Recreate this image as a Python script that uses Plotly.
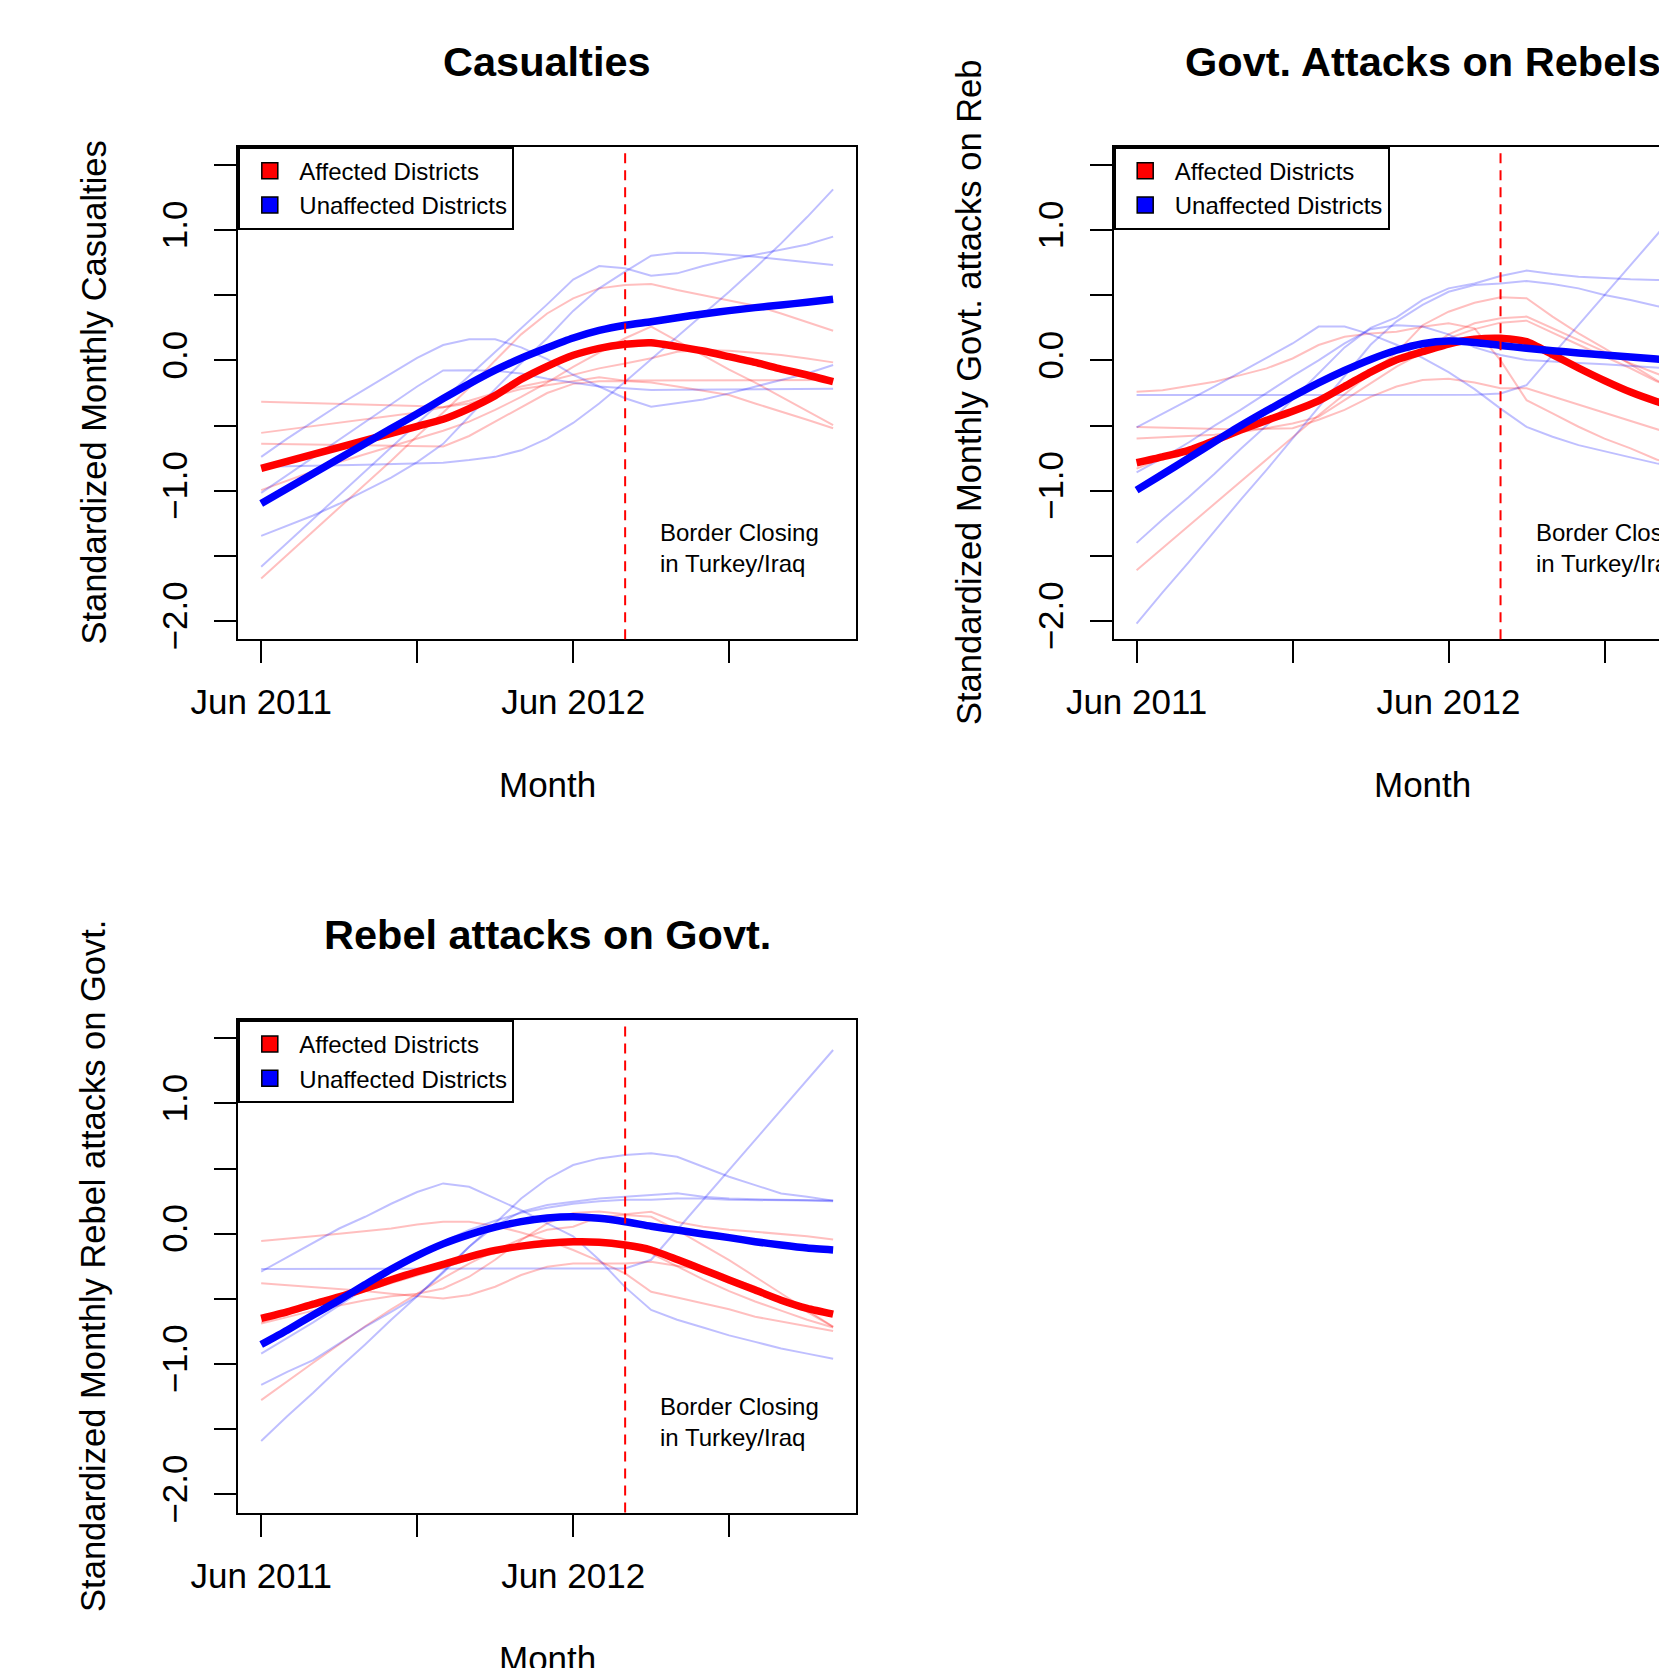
import plotly.graph_objects as go

# ---------------- data ----------------
months = ["Jun 2011", "Jul 2011", "Aug 2011", "Sep 2011", "Oct 2011", "Nov 2011",
          "Dec 2011", "Jan 2012", "Feb 2012", "Mar 2012", "Apr 2012", "May 2012",
          "Jun 2012", "Jul 2012", "Aug 2012", "Sep 2012", "Oct 2012", "Nov 2012",
          "Dec 2012", "Jan 2013", "Feb 2013", "Mar 2013", "Apr 2013"]
tick_months = ["Jun 2011", "Dec 2011", "Jun 2012", "Dec 2012"]
tick_labels = ["Jun 2011", "", "Jun 2012", ""]
border_month = "Aug 2012"
y_ticks = [-2.0, -1.5, -1.0, -0.5, 0.0, 0.5, 1.0, 1.5]
y_tick_labels = ["\u22122.0", "", "\u22121.0", "", "0.0", "", "1.0", ""]
legend_names = ["Affected Districts", "Unaffected Districts"]

# Casualties
cas_aff_mean = [-0.829, -0.775, -0.721, -0.667, -0.614, -0.56, -0.506, -0.452, -0.37, -0.27, -0.145, -0.045,
                0.04, 0.093, 0.124, 0.136, 0.106, 0.072, 0.029, -0.015, -0.066, -0.112, -0.163]
cas_unaff_mean = [-1.097, -0.982, -0.867, -0.752, -0.637, -0.522, -0.41, -0.293, -0.18, -0.075, 0.017, 0.097,
                  0.172, 0.23, 0.27, 0.297, 0.328, 0.356, 0.382, 0.405, 0.426, 0.446, 0.469]
cas_aff_1 = [-0.317, -0.322, -0.327, -0.333, -0.338, -0.345, -0.35, -0.36, -0.33, -0.27, -0.22, -0.19,
             -0.16, -0.13, -0.155, -0.155, -0.15, -0.15, -0.15, -0.15, -0.15, -0.15, -0.151]
cas_aff_2 = [-0.556, -0.53, -0.5, -0.475, -0.45, -0.425, -0.4, -0.36, -0.31, -0.25, -0.2, -0.16,
             -0.112, -0.061, -0.023, 0.016, 0.067, 0.08, 0.075, 0.06, 0.042, 0.015, -0.015]
cas_aff_3 = [-0.64, -0.643, -0.646, -0.65, -0.652, -0.655, -0.657, -0.66, -0.58, -0.47, -0.36, -0.25,
             -0.18, -0.16, -0.157, -0.17, -0.2, -0.23, -0.265, -0.33, -0.39, -0.455, -0.52]
cas_aff_4 = [-0.995, -0.92, -0.85, -0.78, -0.72, -0.66, -0.6, -0.54, -0.47, -0.38, -0.28, -0.17,
             -0.05, 0.06, 0.17, 0.26, 0.15, 0.04, -0.07, -0.17, -0.28, -0.39, -0.496]
cas_aff_5 = [-1.673, -1.49, -1.31, -1.13, -0.95, -0.77, -0.58, -0.4, -0.21, 0.0, 0.2, 0.36,
             0.476, 0.553, 0.579, 0.587, 0.54, 0.5, 0.464, 0.42, 0.36, 0.297, 0.228]
cas_unaff_1 = [-0.74, -0.6, -0.47, -0.34, -0.22, -0.1, 0.02, 0.118, 0.162, 0.162, 0.1, 0.01,
               -0.11, -0.2, -0.29, -0.355, -0.33, -0.3, -0.253, -0.2, -0.15, -0.1, -0.035]
cas_unaff_2 = [-1.016, -0.88, -0.745, -0.61, -0.475, -0.34, -0.2, -0.077, -0.075, -0.08, -0.1, -0.14,
               -0.17, -0.2, -0.214, -0.227, -0.226, -0.225, -0.224, -0.222, -0.221, -0.22, -0.218]
cas_unaff_3 = [-0.815, -0.813, -0.81, -0.805, -0.8, -0.795, -0.79, -0.785, -0.765, -0.74, -0.69, -0.6,
               -0.48, -0.33, -0.163, 0.01, 0.18, 0.355, 0.527, 0.71, 0.898, 1.1, 1.313]
cas_unaff_4 = [-1.346, -1.27, -1.19, -1.1, -1.0, -0.9, -0.78, -0.64, -0.43, -0.22, -0.02, 0.17,
               0.38, 0.553, 0.681, 0.804, 0.827, 0.824, 0.811, 0.796, 0.775, 0.755, 0.732]
cas_unaff_5 = [-1.583, -1.4, -1.22, -1.035, -0.85, -0.67, -0.485, -0.3, -0.12, 0.06, 0.245, 0.43,
               0.62, 0.724, 0.707, 0.65, 0.668, 0.724, 0.77, 0.81, 0.847, 0.89, 0.95]

# Govt. attacks on rebels
gov_aff_mean = [-0.785, -0.74, -0.69, -0.615, -0.535, -0.46, -0.39, -0.31, -0.2, -0.09, 0.005, 0.067,
                0.126, 0.162, 0.17, 0.144, 0.045, -0.058, -0.155, -0.243, -0.315, -0.375, -0.43]
gov_unaff_mean = [-0.995, -0.873, -0.75, -0.625, -0.502, -0.387, -0.277, -0.172, -0.077, 0.008, 0.078, 0.128,
                  0.149, 0.138, 0.115, 0.093, 0.075, 0.057, 0.041, 0.026, 0.011, -0.004, -0.02]
gov_aff_1 = [-0.24, -0.228, -0.197, -0.164, -0.113, -0.061, 0.015, 0.118, 0.182, 0.207, 0.22, 0.259,
             0.285, 0.246, 0.0, -0.305, -0.407, -0.509, -0.6, -0.675, -0.76, -0.83, -0.89]
gov_aff_2 = [-0.51, -0.515, -0.52, -0.525, -0.53, -0.525, -0.52, -0.455, -0.38, -0.28, -0.2, -0.151,
             -0.14, -0.17, -0.214, -0.214, -0.278, -0.342, -0.406, -0.47, -0.534, -0.59, -0.65]
gov_aff_3 = [-0.6, -0.59, -0.58, -0.57, -0.55, -0.52, -0.484, -0.433, -0.305, -0.176, -0.048, 0.06,
             0.2, 0.285, 0.323, 0.336, 0.246, 0.157, 0.067, -0.023, -0.1, -0.18, -0.26]
gov_aff_4 = [-0.83, -0.75, -0.68, -0.6, -0.53, -0.46, -0.39, -0.3, -0.2, -0.08, 0.02, 0.08,
             0.17, 0.24, 0.29, 0.305, 0.21, 0.12, 0.03, -0.06, -0.16, -0.24, -0.32]
gov_aff_5 = [-1.61, -1.44, -1.27, -1.1, -0.93, -0.76, -0.59, -0.42, -0.26, -0.1, 0.06, 0.27,
             0.374, 0.443, 0.485, 0.477, 0.336, 0.208, 0.093, -0.03, -0.151, -0.26, -0.37]
gov_unaff_1 = [-0.266, -0.266, -0.266, -0.266, -0.266, -0.266, -0.266, -0.266, -0.266, -0.266, -0.266, -0.266,
               -0.266, -0.264, -0.254, -0.19, 0.042, 0.273, 0.504, 0.735, 0.966, 1.19, 1.42]
gov_unaff_2 = [-0.514, -0.41, -0.31, -0.2, -0.09, 0.02, 0.13, 0.26, 0.26, 0.2, 0.12, 0.02,
               -0.09, -0.22, -0.37, -0.51, -0.586, -0.65, -0.7, -0.744, -0.79, -0.83, -0.86]
gov_unaff_3 = [-0.86, -0.75, -0.63, -0.5, -0.38, -0.25, -0.12, 0.0, 0.13, 0.24, 0.27, 0.26,
               0.2, 0.1, 0.041, 0.003, -0.01, -0.02, -0.03, -0.045, -0.06, -0.07, -0.08]
gov_unaff_4 = [-1.4, -1.22, -1.05, -0.87, -0.68, -0.5, -0.3, -0.1, 0.1, 0.25, 0.33, 0.465,
               0.553, 0.59, 0.648, 0.689, 0.663, 0.643, 0.63, 0.622, 0.617, 0.61, 0.6]
gov_unaff_5 = [-2.02, -1.78, -1.55, -1.31, -1.07, -0.84, -0.6, -0.36, -0.12, 0.12, 0.3, 0.426,
               0.527, 0.578, 0.591, 0.609, 0.586, 0.553, 0.502, 0.464, 0.418, 0.38, 0.34]

# Rebel attacks on govt.
reb_aff_mean = [-0.65, -0.6, -0.54, -0.484, -0.42, -0.353, -0.292, -0.235, -0.177, -0.128, -0.095, -0.073,
                -0.062, -0.065, -0.087, -0.125, -0.198, -0.276, -0.355, -0.432, -0.51, -0.573, -0.617]
reb_unaff_mean = [-0.85, -0.74, -0.624, -0.51, -0.39, -0.273, -0.168, -0.078, -0.007, 0.05, 0.093, 0.12,
                  0.13, 0.118, 0.092, 0.057, 0.028, -0.002, -0.03, -0.061, -0.087, -0.11, -0.125]
reb_aff_1 = [-0.056, -0.04, -0.02, 0.0, 0.02, 0.04, 0.07, 0.092, 0.092, 0.06, 0.01, -0.05,
             -0.125, -0.21, -0.305, -0.445, -0.49, -0.535, -0.58, -0.637, -0.675, -0.71, -0.747]
reb_aff_2 = [-0.381, -0.395, -0.41, -0.425, -0.44, -0.46, -0.48, -0.497, -0.47, -0.407, -0.317, -0.253,
             -0.228, -0.228, -0.228, -0.215, -0.245, -0.279, -0.34, -0.407, -0.5, -0.6, -0.714]
reb_aff_3 = [-0.69, -0.64, -0.59, -0.55, -0.51, -0.48, -0.46, -0.42, -0.33, -0.2, -0.05, 0.08,
             0.16, 0.17, 0.15, 0.168, 0.09, 0.054, 0.03, 0.015, 0.0, -0.02, -0.044]
reb_aff_4 = [-1.277, -1.13, -0.99, -0.85, -0.71, -0.58, -0.46, -0.34, -0.23, -0.13, -0.04, 0.03,
             0.054, 0.13, 0.143, 0.13, 0.028, -0.09, -0.202, -0.33, -0.458, -0.59, -0.714]
reb_aff_5 = [-0.68, -0.62, -0.56, -0.5, -0.44, -0.38, -0.32, -0.26, -0.2, -0.15, -0.11, -0.09,
             -0.08, -0.08, -0.1, -0.15, -0.25, -0.35, -0.44, -0.52, -0.59, -0.66, -0.72]
reb_unaff_1 = [-0.27, -0.27, -0.27, -0.27, -0.27, -0.27, -0.27, -0.27, -0.27, -0.27, -0.27, -0.27,
               -0.27, -0.268, -0.266, -0.2, 0.03, 0.26, 0.49, 0.72, 0.95, 1.18, 1.41]
reb_unaff_2 = [-0.29, -0.18, -0.07, 0.04, 0.13, 0.23, 0.32, 0.386, 0.36, 0.27, 0.18, 0.08,
               -0.02, -0.2, -0.41, -0.585, -0.66, -0.72, -0.78, -0.83, -0.88, -0.92, -0.96]
reb_unaff_3 = [-1.59, -1.4, -1.22, -1.03, -0.85, -0.66, -0.48, -0.29, -0.1, 0.08, 0.27, 0.42,
               0.527, 0.578, 0.604, 0.617, 0.591, 0.514, 0.437, 0.373, 0.309, 0.284, 0.254]
reb_unaff_4 = [-1.16, -1.06, -0.97, -0.84, -0.715, -0.6, -0.48, -0.3, -0.1, 0.06, 0.17, 0.22,
               0.245, 0.27, 0.284, 0.297, 0.31, 0.284, 0.27, 0.264, 0.26, 0.257, 0.254]
reb_unaff_5 = [-0.92, -0.8, -0.68, -0.55, -0.42, -0.29, -0.17, -0.06, 0.03, 0.1, 0.16, 0.2,
               0.23, 0.25, 0.26, 0.26, 0.27, 0.27, 0.26, 0.26, 0.255, 0.255, 0.25]

panels = [
    dict(title="Casualties", ylab="Standardized Monthly Casualties",
         aff=[cas_aff_1, cas_aff_2, cas_aff_3, cas_aff_4, cas_aff_5],
         unaff=[cas_unaff_1, cas_unaff_2, cas_unaff_3, cas_unaff_4, cas_unaff_5],
         aff_mean=cas_aff_mean, unaff_mean=cas_unaff_mean),
    dict(title="Govt. Attacks on Rebels", ylab="Standardized Monthly Govt. attacks on Reb",
         aff=[gov_aff_1, gov_aff_2, gov_aff_3, gov_aff_4, gov_aff_5],
         unaff=[gov_unaff_1, gov_unaff_2, gov_unaff_3, gov_unaff_4, gov_unaff_5],
         aff_mean=gov_aff_mean, unaff_mean=gov_unaff_mean),
    dict(title="Rebel attacks on Govt.", ylab="Standardized Monthly Rebel attacks on Govt.",
         aff=[reb_aff_1, reb_aff_2, reb_aff_3, reb_aff_4, reb_aff_5],
         unaff=[reb_unaff_1, reb_unaff_2, reb_unaff_3, reb_unaff_4, reb_unaff_5],
         aff_mean=reb_aff_mean, unaff_mean=reb_unaff_mean),
]

# ---------------- layout geometry (pixels) ----------------
W, H = 1659, 1668
FONT = "Liberation Sans, Arial, Helvetica, sans-serif"
AX_FONT = 35
YLAB_FONT = 34.5
TITLE_FONT = 41.5
SMALL_FONT = 24
CELL_W, CELL_H = 875.4, 873.3
BOX_L, BOX_T, BOX_W, BOX_H = 238.3, 146.7, 617.7, 492.6
X_RANGE = [-0.88, 22.88]
Y_RANGE = [-2.14, 1.64]
RED, BLUE = "#ff0000", "#0000ff"
THIN_RED, THIN_BLUE = "rgba(255,0,0,0.25)", "rgba(0,0,255,0.25)"

month_idx = list(range(len(months)))
tickvals = [months.index(m) for m in tick_months]
border_idx = months.index(border_month)

cells = [(0, 0), (1, 0), (0, 1)]  # (col, row)
axis_ids = [("x", "y"), ("x2", "y2"), ("x3", "y3")]
legend_ids = ["legend", "legend2", "legend3"]

fig = go.Figure()
layout_axes = {}
annotations = []
shapes = []
legends = {}

for p, (col, row), (xa, ya), lg in zip(panels, cells, axis_ids, legend_ids):
    left = BOX_L + col * CELL_W
    top = BOX_T + row * CELL_H
    right = left + BOX_W
    bottom = top + BOX_H
    px_per_unit = BOX_W / (X_RANGE[1] - X_RANGE[0])
    if right > W:
        xr = [X_RANGE[0], X_RANGE[0] + (W - left) / px_per_unit]
        xdom = [left / W, 1.0]
        clipped = True
    else:
        xr = X_RANGE
        xdom = [left / W, right / W]
        clipped = False
    ydom = [1 - bottom / H, 1 - top / H]

    for s in p["aff"]:
        fig.add_trace(go.Scatter(x=month_idx, y=s, mode="lines",
                                 line=dict(color=THIN_RED, width=2),
                                 showlegend=False, hoverinfo="skip", xaxis=xa, yaxis=ya))
    for s in p["unaff"]:
        fig.add_trace(go.Scatter(x=month_idx, y=s, mode="lines",
                                 line=dict(color=THIN_BLUE, width=2),
                                 showlegend=False, hoverinfo="skip", xaxis=xa, yaxis=ya))
    fig.add_trace(go.Scatter(x=month_idx, y=p["aff_mean"], mode="lines",
                             line=dict(color=RED, width=7.5, shape="spline", smoothing=0.6),
                             showlegend=False, xaxis=xa, yaxis=ya))
    fig.add_trace(go.Scatter(x=month_idx, y=p["unaff_mean"], mode="lines",
                             line=dict(color=BLUE, width=7.5, shape="spline", smoothing=0.6),
                             showlegend=False, xaxis=xa, yaxis=ya))
    for name, c in zip(legend_names, [RED, BLUE]):
        fig.add_trace(go.Scatter(x=[None], y=[None], mode="markers", name=name,
                                 marker=dict(symbol="square", size=16, color=c,
                                             line=dict(color="black", width=1.5)),
                                 legend=lg, xaxis=xa, yaxis=ya))

    axn = "" if xa == "x" else xa[1:]
    layout_axes["xaxis" + axn] = dict(
        domain=xdom, range=xr, anchor=ya, tickmode="array", tickvals=tickvals, ticktext=tick_labels,
        ticks="outside", ticklen=22, tickwidth=2, tickcolor="black",
        showline=True, linewidth=2, linecolor="black", mirror=True,
        showgrid=False, zeroline=False, automargin=False, fixedrange=True,
        tickfont=dict(family=FONT, size=AX_FONT, color="black"), ticklabelstandoff=9)
    layout_axes["yaxis" + axn] = dict(
        domain=ydom, range=Y_RANGE, anchor=xa, tickmode="array", tickvals=y_ticks, ticktext=y_tick_labels,
        ticks="outside", ticklen=22, tickwidth=2, tickcolor="black", tickangle=-90,
        showline=True, linewidth=2, linecolor="black", mirror=(not clipped),
        showgrid=False, zeroline=False, automargin=False, fixedrange=True,
        tickfont=dict(family=FONT, size=AX_FONT, color="black"), ticklabelstandoff=13)

    legends[lg] = dict(x=left / W, y=1 - top / H, xanchor="left", yanchor="top",
                       bgcolor="white", bordercolor="black", borderwidth=2,
                       font=dict(family=FONT, size=SMALL_FONT, color="black"),
                       tracegroupgap=0, itemwidth=49)

    # vertical border-closing line
    shapes.append(dict(type="line", xref=xa, yref=ya + " domain", x0=border_idx, x1=border_idx,
                       y0=0, y1=1, line=dict(color=RED, width=2, dash="10px,7px"), layer="above"))
    annotations.append(dict(xref=xa, yref=ya, x=border_idx + 1.27, y=-1.443, xanchor="left",
                            yanchor="middle", align="left", showarrow=False,
                            text="Border Closing<br>in Turkey/Iraq",
                            font=dict(family=FONT, size=SMALL_FONT, color="black")))
    cx = (left + left + BOX_W) / 2
    annotations.append(dict(xref="paper", yref="paper", x=cx / W, y=1 - (top - 85) / H,
                            xanchor="center", yanchor="middle", showarrow=False, text=p["title"],
                            font=dict(family=FONT, size=TITLE_FONT, color="black", weight="bold")))
    annotations.append(dict(xref="paper", yref="paper", x=cx / W, y=1 - (bottom + 145.7) / H,
                            xanchor="center", yanchor="middle", showarrow=False, text="Month",
                            font=dict(family=FONT, size=AX_FONT, color="black")))
    annotations.append(dict(xref="paper", yref="paper", x=(left - 144.7) / W, y=1 - (top + BOX_H / 2) / H,
                            xanchor="center", yanchor="middle", showarrow=False, text=p["ylab"],
                            textangle=-90, font=dict(family=FONT, size=YLAB_FONT, color="black")))

fig.update_layout(
    width=W, height=H, margin=dict(l=0, r=0, t=0, b=0, pad=0),
    paper_bgcolor="white", plot_bgcolor="white",
    font=dict(family=FONT, color="black"),
    showlegend=True, annotations=annotations, shapes=shapes,
    **layout_axes, **legends)

fig.write_html("out.html", include_plotlyjs=True, config={"displayModeBar": False},
               post_script="document.body.style.margin='0';document.body.style.overflow='hidden';")
